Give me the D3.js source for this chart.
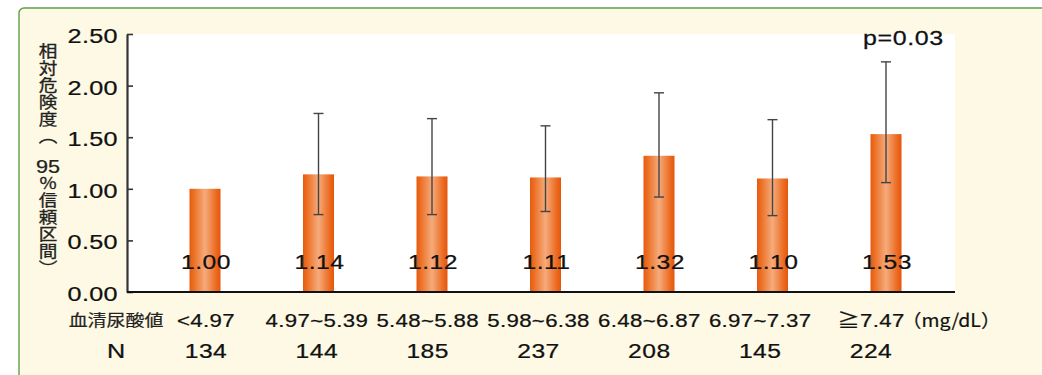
<!DOCTYPE html>
<html><head><meta charset="utf-8">
<script src="https://cdn.jsdelivr.net/npm/d3@7"></script>
<style>
html,body{margin:0;padding:0;background:#fff;}
svg{display:block;}
</style></head>
<body>
<svg id="chart" width="1042" height="375"></svg>
<script>
const categories = ["<4.97","4.97~5.39","5.48~5.88","5.98~6.38","6.48~6.87","6.97~7.37","≧7.47"];
const nValues = [134,144,185,237,208,145,224];
const rrValues = [1.00,1.14,1.12,1.11,1.32,1.10,1.53];
const ciLow  = [null,0.75,0.75,0.78,0.92,0.74,1.06];
const ciHigh = [null,1.73,1.68,1.61,1.93,1.67,2.23];
const yTicks = [0,0.5,1.0,1.5,2.0,2.5];
const yTitleTop = "相対危険度（";
const yTitleMid = "95";
const yTitleBottom = "%信頼区間）";
const rowLabel = "血清尿酸値";
const nLabel = "N";
const unitLabel = "（mg/dL）";
const pLabel = "p=0.03";

const svg = d3.select("#chart");
const L = 127, R = 955, T = 34, B = 292;
const SX = 1.2; // horizontal stretch of the lettering
const numFont = "'Liberation Sans', Arial, sans-serif";
const cjkFont = "'Noto Sans CJK JP', sans-serif";

function label(g, x, y, s, o) {
  o = o || {};
  return g.append("text")
    .attr("transform", `translate(${x},${y}) scale(${o.sx||SX},1)`)
    .attr("text-anchor", o.anchor || "middle")
    .attr("font-family", o.font || numFont)
    .attr("font-size", o.size || 21)
    .attr("letter-spacing", o.ls || 0)
    .attr("fill", o.fill || "#111")
    .attr("stroke", o.fill || "#111").attr("stroke-width", o.sw == null ? 0.25 : o.sw)
    .text(s);
}

// card background
svg.append("rect").attr("x",19).attr("y",8).attr("width",1100).attr("height",420)
  .attr("rx",5).attr("fill","#fef9e4").attr("stroke","#5f9e48").attr("stroke-width",1.4);

// plot area
svg.append("rect").attr("x",L).attr("y",T).attr("width",R-L).attr("height",B-T).attr("fill","#fff");

const y = d3.scaleLinear().domain([0,2.5]).range([B,T]);
const x = d3.scalePoint().domain(categories).range([205,886]);
const xl = d3.scalePoint().domain(categories).range([206,871]);
const barW = 31;

const defs = svg.append("defs");
const grad = defs.append("linearGradient").attr("id","barGrad").attr("x1","0%").attr("x2","100%").attr("y1","0%").attr("y2","0%");
grad.append("stop").attr("offset","0%").attr("stop-color","#e85a0d");
grad.append("stop").attr("offset","15%").attr("stop-color","#ec7227");
grad.append("stop").attr("offset","50%").attr("stop-color","#f5ab7c");
grad.append("stop").attr("offset","85%").attr("stop-color","#ec6c22");
grad.append("stop").attr("offset","100%").attr("stop-color","#e4560c");

const data = categories.map((c,i)=>({c, v:rrValues[i], lo:ciLow[i], hi:ciHigh[i], n:nValues[i]}));

// bars
svg.append("g").selectAll("rect").data(data).join("rect")
  .attr("x",d=>x(d.c)-barW/2).attr("width",barW)
  .attr("y",d=>y(d.v)).attr("height",d=>y(0)-y(d.v))
  .attr("fill","url(#barGrad)");

// error bars
const eb = svg.append("g").attr("stroke","#444").attr("stroke-width",1.4).attr("fill","none");
const ebData = data.filter(d=>d.lo!=null);
eb.selectAll("line.v").data(ebData).join("line").attr("class","v")
  .attr("x1",d=>x(d.c)).attr("x2",d=>x(d.c)).attr("y1",d=>y(d.hi)).attr("y2",d=>y(d.lo));
eb.selectAll("line.t").data(ebData).join("line").attr("class","t")
  .attr("x1",d=>x(d.c)-5).attr("x2",d=>x(d.c)+5).attr("y1",d=>y(d.hi)).attr("y2",d=>y(d.hi));
eb.selectAll("line.b").data(ebData).join("line").attr("class","b")
  .attr("x1",d=>x(d.c)-5).attr("x2",d=>x(d.c)+5).attr("y1",d=>y(d.lo)).attr("y2",d=>y(d.lo));

// value labels
const vg = svg.append("g");
data.forEach(d=>label(vg, x(d.c)+1, 269, d3.format(".2f")(d.v), {size:20.5, ls:0.4}));

// y axis
const yAxis = d3.axisLeft(y).tickValues(yTicks).tickFormat(d3.format(".2f"))
  .tickSizeInner(-6).tickSizeOuter(0).tickPadding(9);
const gy = svg.append("g").attr("transform",`translate(${L},0)`).call(yAxis);
gy.select(".domain").attr("stroke","#333").attr("stroke-width",2.2);
gy.selectAll(".tick line").attr("stroke","#333").attr("stroke-width",1.6);
gy.selectAll(".tick text").attr("x",0).attr("transform",`translate(-9,0) scale(${SX},1)`)
  .attr("font-family",numFont).attr("font-size",21).attr("letter-spacing",0.3)
  .attr("fill","#111").attr("stroke","#111").attr("stroke-width",0.25).attr("dy","0.4em");

// x baseline
svg.append("line").attr("x1",L).attr("x2",R).attr("y1",y(0)).attr("y2",y(0))
  .attr("stroke","#111").attr("stroke-width",2.2);

// p label
label(svg, 863, 45, pLabel, {anchor:"start", size:20, sx:1.25, ls:0.5});

// category labels
const cg = svg.append("g");
data.forEach(d=>label(cg, xl(d.c), 326.5, d.c, {size:18.5, ls:0.3, font:numFont+", "+cjkFont}));
label(svg, 116, 326, rowLabel, {font:cjkFont, size:15.8, fill:"#222", sw:0.2});
label(svg, 902, 326.5, unitLabel, {anchor:"start", font:cjkFont, size:18, sx:1.08, sw:0.2});

// N row
const ng = svg.append("g");
data.forEach(d=>label(ng, xl(d.c), 358, d.n, {size:20.5, ls:0.4}));
label(svg, 116, 358, nLabel, {size:21});

// vertical y-axis title
const yt = svg.append("g").attr("fill","#222");
function vtext(yTop, s) {
  yt.append("text")
    .attr("transform", `translate(48,${yTop}) scale(1.2,1)`)
    .attr("style","writing-mode: vertical-rl; text-orientation: upright;")
    .attr("font-family",cjkFont).attr("font-size",15.5).attr("letter-spacing",1.6)
    .attr("fill","#222").attr("stroke","#222").attr("stroke-width",0.3)
    .text(s);
}
vtext(43, yTitleTop);
label(yt, 48, 173, yTitleMid, {size:18, ls:0, fill:"#222"});
vtext(175, yTitleBottom);
</script>
</body></html>
